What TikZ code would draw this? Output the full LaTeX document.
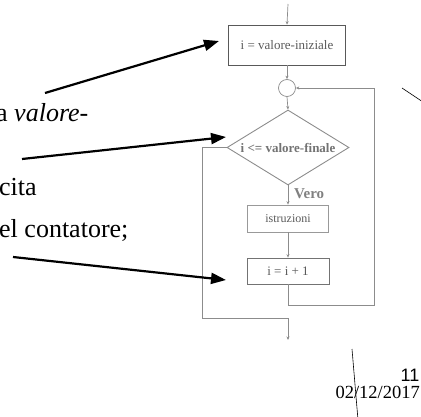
\documentclass[tikz,border=0pt]{standalone}
\usepackage{fontspec}
\setmainfont{Liberation Serif}
\newfontfamily\pagesans{Liberation Sans}
\usetikzlibrary{shapes.geometric,arrows.meta}

\begin{document}
\begin{tikzpicture}[x=1pt,y=-1pt,
  flowline/.style={draw=black!45, line width=0.7pt},
  flowarrow/.style={flowline, -{Stealth[length=3.5pt,width=3pt]}},
  procbox/.style={draw=black!55, line width=0.7pt, rectangle, inner sep=0pt,
    font=\fontsize{12}{14}\selectfont, text=black!65},
  pointer/.style={line width=2.2pt, -{Triangle[length=15pt,width=11pt]}},
  bodytext/.style={anchor=base west, inner sep=0pt, font=\fontsize{26}{30}\selectfont}]
\useasboundingbox (0,0) rectangle (421,417);

% flowchart of the counted loop
\node[procbox, draw=black!65, minimum width=117pt, minimum height=40pt,
  font=\fontsize{13}{15}\selectfont] (init) at (287,45) {i = valore-iniziale};
\node[circle, draw=black!45, line width=0.7pt, minimum size=17pt, inner sep=0pt] (join) at (287,88) {};
\node[diamond, draw=black!45, line width=0.9pt, aspect=1.63, minimum width=122pt,
  minimum height=75pt, inner sep=0pt, font=\fontsize{13}{15}\selectfont\bfseries,
  text=black!55] (test) at (288,147.5) {i <= valore-finale};
\node[procbox, draw=black!40, minimum width=81pt, minimum height=27pt] (body) at (288,218.5) {istruzioni};
\node[procbox, minimum width=82pt, minimum height=26pt, font=\fontsize{13}{15}\selectfont] (incr) at (288,271) {i = i + 1};
\node[anchor=base west, inner sep=0pt, font=\fontsize{15}{17}\selectfont\bfseries, text=black!50] (vero) at (294,199) {Vero};

\coordinate (entry) at (288,4);
\coordinate (loopR) at (374,305);
\coordinate (exitL) at (202,318);
\coordinate (exit) at (288,340);

\draw[flowarrow] (entry) -- (init.north);
\draw[flowarrow] (init.south) -- (join.north);
\draw[flowarrow] (join.south) -- (test.north);
\draw[flowarrow] (test.south) -- (body.north);
\draw[flowarrow] (body.south) -- (incr.north);
\draw[flowarrow] (incr.south) |- (loopR) |- (join.east);
\draw[flowarrow] (test.west) -| (exitL) -| (exit);

% explanatory text on the left
\node[bodytext] (t1) at (-4,122) {a \textit{valore-}};
\node[bodytext] (t2) at (-1,196) {cita};
\node[bodytext] (t3) at (-1,238) {el contatore;};

% pointers from the text to the chart
\coordinate (a1s) at (45,93);
\coordinate (a1e) at (219,41);
\coordinate (a2s) at (22,159);
\coordinate (a2e) at (226,137);
\coordinate (a3s) at (13,257);
\coordinate (a3e) at (226,280);
\draw[pointer] (a1s) -- (a1e);
\draw[pointer] (a2s) -- (a2e);
\draw[pointer] (a3s) -- (a3e);

% slide footer and stray strokes
\coordinate (s1a) at (352,349);
\coordinate (s1b) at (358,420);
\coordinate (s2a) at (402,88);
\coordinate (s2b) at (423,102);
\draw[line width=0.6pt] (s1a) -- (s1b);
\draw[line width=0.6pt] (s2a) -- (s2b);
\node[anchor=base east, inner sep=0pt, font=\pagesans\fontsize{18}{20}\selectfont] (page) at (419.5,381.5) {11};
\node[anchor=base east, inner sep=0pt, font=\fontsize{18.5}{20}\selectfont] (date) at (420,398) {02/12/2017};
\end{tikzpicture}
\end{document}
